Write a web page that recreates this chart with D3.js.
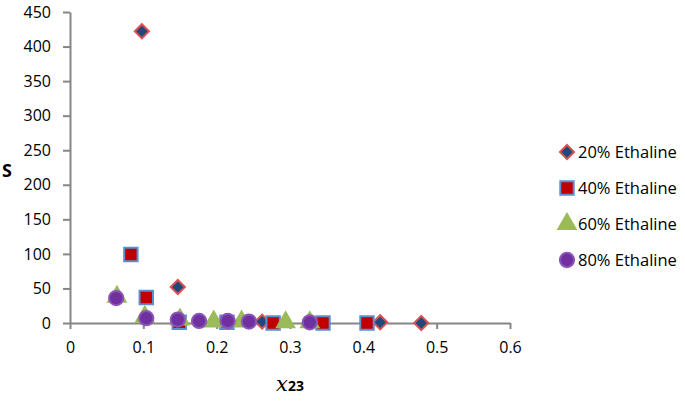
<!DOCTYPE html>
<html>
<head>
<meta charset="utf-8">
<script src="https://cdn.jsdelivr.net/npm/d3@7"></script>
<style>
  body { margin: 0; background: #fff; }
  text { font-family: "Open Sans", "Liberation Sans", sans-serif; }
</style>
</head>
<body>
<div id="chart"></div>
<script>
// values
var seriesNames = ["20% Ethaline", "40% Ethaline", "60% Ethaline", "80% Ethaline"]
var x20 = [0.098, 0.147, 0.262, 0.423, 0.479]
var y20 = [422, 52, 2, 1, 0]
var x40 = [0.083, 0.104, 0.149, 0.214, 0.277, 0.345, 0.405]
var y40 = [99, 37, 1, 1, 0, 0, 0]
var x60 = [0.064, 0.102, 0.150, 0.196, 0.234, 0.294, 0.327]
var y60 = [38, 9, 5, 2, 2, 1, 1]
var x80 = [0.063, 0.104, 0.147, 0.176, 0.215, 0.244, 0.327]
var y80 = [36, 7, 5, 3, 3, 2, 1]
var xTicks = [0, 0.1, 0.2, 0.3, 0.4, 0.5, 0.6]
var yTicks = [0, 50, 100, 150, 200, 250, 300, 350, 400, 450]

var width = 685, height = 402
var margin = {left: 70, top: 12, right: 175, bottom: 79}

var svg = d3.select("#chart").append("svg")
  .attr("width", width)
  .attr("height", height)

var x = d3.scaleLinear().domain([0, 0.6]).range([margin.left, width - margin.right])
var y = d3.scaleLinear().domain([0, 450]).range([height - margin.bottom, margin.top])

var axisColor = "#868686"

// x axis
var xAxis = d3.axisBottom(x).tickValues(xTicks).tickSize(6).tickSizeOuter(0)
  .tickFormat(function(d) { return d === 0 ? "0" : d3.format(".1f")(d) })
var gx = svg.append("g")
  .attr("transform", "translate(0," + y(0) + ")")
  .call(xAxis)
gx.select(".domain").attr("stroke", axisColor).attr("stroke-width", 2)
gx.selectAll(".tick line").attr("stroke", axisColor).attr("stroke-width", 2)
gx.selectAll(".tick text").attr("font-size", 16).attr("fill", "#000").attr("y", 14).attr("dy", "1em")

// y axis
var yAxis = d3.axisLeft(y).tickValues(yTicks).tickSize(7).tickSizeOuter(0)
var gy = svg.append("g")
  .attr("transform", "translate(" + x(0) + ",0)")
  .call(yAxis)
gy.select(".domain").attr("stroke", axisColor).attr("stroke-width", 2)
gy.selectAll(".tick line").attr("stroke", axisColor).attr("stroke-width", 2)
gy.selectAll(".tick text").attr("font-size", 16).attr("fill", "#000").attr("x", -19)

// axis titles
svg.append("text")
  .attr("x", 2).attr("y", 177)
  .attr("font-size", 18).attr("font-weight", "bold")
  .text("S")

var xt = svg.append("text")
  .attr("x", x(0.3)).attr("y", 391)
  .attr("text-anchor", "middle")
xt.append("tspan")
  .attr("font-family", "'DejaVu Serif', 'Liberation Serif', serif")
  .attr("font-style", "italic").attr("font-size", 21)
  .text("x")
xt.append("tspan")
  .attr("font-size", 14).attr("font-weight", "bold")
  .text("23")

// series styles
var styles = [
  {type: d3.symbolSquare, size: 100, fill: "#1F497D", stroke: "#D9534F", rot: 45},
  {type: d3.symbolSquare, size: 180, fill: "#C00000", stroke: "#5B8FD0", rot: 0},
  {type: d3.symbolTriangle, size: 130, fill: "#9BBB59", stroke: "#9BBB59", rot: 0},
  {type: d3.symbolCircle, size: 160, fill: "#7030A0", stroke: "#8A55B5", rot: 0}
]
var allX = [x20, x40, x60, x80]
var allY = [y20, y40, y60, y80]

function marker(g, i, px, py) {
  var s = styles[i]
  return g.append("path")
    .attr("d", d3.symbol().type(s.type).size(s.size)())
    .attr("fill", s.fill)
    .attr("stroke", s.stroke)
    .attr("stroke-width", 2)
    .attr("transform", "translate(" + px + "," + py + ") rotate(" + s.rot + ")")
}

for (var i = 0; i < 4; i++) {
  var g = svg.append("g")
  for (var j = 0; j < allX[i].length; j++) {
    marker(g, i, x(allX[i][j]), y(allY[i][j]))
  }
}

// legend
var legend = svg.append("g")
seriesNames.forEach(function(name, i) {
  var ly = 152 + i * 36
  marker(legend, i, 567, ly)
  legend.append("text")
    .attr("x", 578).attr("y", ly)
    .attr("dy", "0.35em")
    .attr("font-size", 16.5)
    .text(name)
})
</script>
</body>
</html>
